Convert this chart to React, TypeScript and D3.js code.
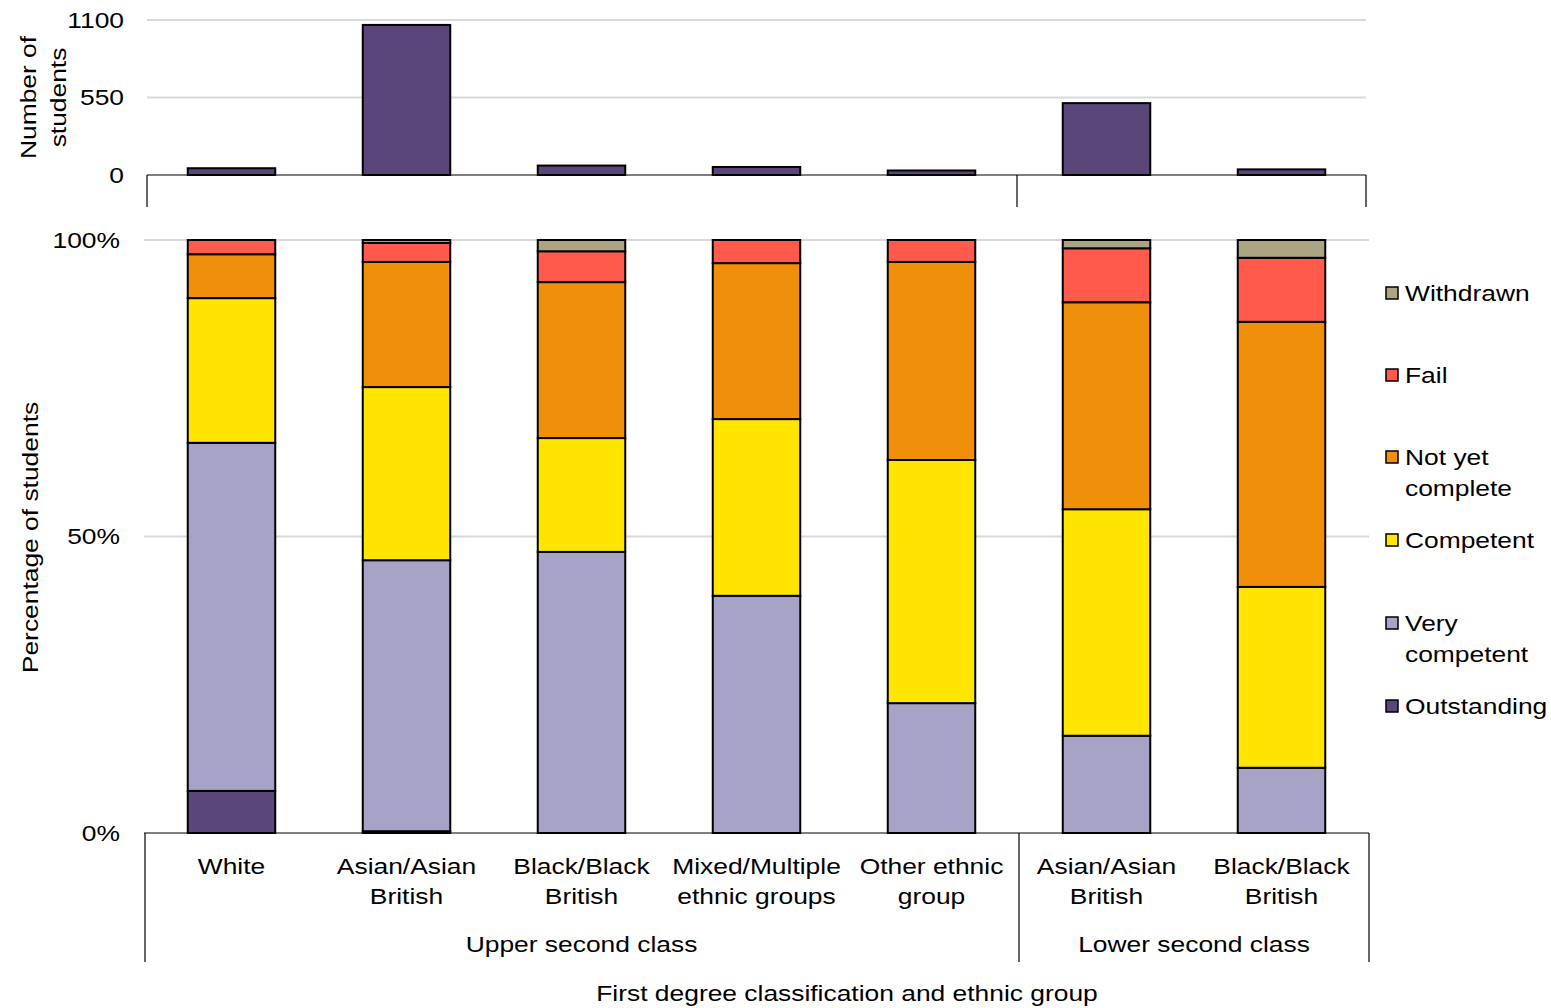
import React from "react";
import * as d3 from "d3";

const categories = [
  ["White"],
  ["Asian/Asian", "British"],
  ["Black/Black", "British"],
  ["Mixed/Multiple", "ethnic groups"],
  ["Other ethnic", "group"],
  ["Asian/Asian", "British"],
  ["Black/Black", "British"],
];
const groups = [
  { name: "Upper second class", start: 0, end: 5 },
  { name: "Lower second class", start: 5, end: 7 },
];
const counts = [48, 1065, 67, 57, 32, 510, 40];

const seriesNames = ["Outstanding", "Very competent", "Competent", "Not yet complete", "Fail", "Withdrawn"];
const seriesColors = ["#5B467A", "#A7A3C7", "#FFE500", "#F0900A", "#FF5A4B", "#ABA584"];
const outstanding = [7.1, 0.3, 0, 0, 0, 0, 0];
const veryCompetent = [58.7, 45.7, 47.4, 40.0, 21.9, 16.4, 11.0];
const competent = [24.4, 29.2, 19.2, 29.8, 41.0, 38.2, 30.5];
const notYetComplete = [7.4, 21.1, 26.3, 26.3, 33.4, 34.9, 44.7];
const fail = [2.4, 3.2, 5.2, 3.9, 3.7, 9.1, 10.8];
const withdrawn = [0, 0.5, 1.9, 0, 0, 1.4, 3.0];
const seriesValues = [outstanding, veryCompetent, competent, notYetComplete, fail, withdrawn];

const countTicks = [0, 550, 1100];
const pctTicks = [0, 50, 100];

const legendLabels = [
  { name: "Withdrawn", lines: ["Withdrawn"], y: 293 },
  { name: "Fail", lines: ["Fail"], y: 375 },
  { name: "Not yet complete", lines: ["Not yet", "complete"], y: 457 },
  { name: "Competent", lines: ["Competent"], y: 540 },
  { name: "Very competent", lines: ["Very", "competent"], y: 623 },
  { name: "Outstanding", lines: ["Outstanding"], y: 706 },
];

const FS = 22;
const SX = 1.2;

function T({ x, y, r = 0, anchor = "start", children }: any) {
  return (
    <g transform={`translate(${x},${y}) rotate(${r}) scale(${SX},1)`}>
      <text x={0} y={0} textAnchor={anchor} dominantBaseline="central" fontSize={FS} fill="#000">
        {children}
      </text>
    </g>
  );
}

export default function App() {
  const W = 1551, H = 1008;
  const font = "'Liberation Sans', Arial, sans-serif";
  const left = 144, right = 1369;
  const x = d3.scaleBand<number>().domain(categories.map((_, i) => i)).range([left, right]).paddingInner(0.5).paddingOuter(0.25);
  const yTop = d3.scaleLinear().domain([0, 1100]).range([175, 20]);
  const yBot = d3.scaleLinear().domain([0, 100]).range([833, 240]);
  const step = x.step();
  const groupEdge = (i: number) => left + i * step;

  const stackData = categories.map((_, i) => {
    const o: any = { idx: i };
    seriesNames.forEach((s, k) => (o[s] = seriesValues[k][i]));
    return o;
  });
  const stacked = d3.stack<any>().keys(seriesNames)(stackData);

  return (
    <svg width={W} height={H} style={{ position: "absolute", left: 0, top: 0, background: "#fff" }} fontFamily={font}>
      {/* top chart */}
      {countTicks.filter((t) => t > 0).map((t) => (
        <line key={"tg" + t} x1={147} x2={1366} y1={yTop(t)} y2={yTop(t)} stroke="#d9d9d9" strokeWidth={2} />
      ))}
      {countTicks.map((t) => (
        <T key={"tt" + t} x={124} y={yTop(t)} anchor="end">{t}</T>
      ))}
      <T x={28} y={yTop(550)} r={-90} anchor="middle">Number of</T>
      <T x={58} y={yTop(550)} r={-90} anchor="middle">students</T>
      {counts.map((c, i) => (
        <rect key={"c" + i} x={x(i)} y={yTop(c)} width={x.bandwidth()} height={yTop(0) - yTop(c)} fill="#5B467A" stroke="#000" strokeWidth={2} />
      ))}
      <line x1={147} x2={1366} y1={yTop(0)} y2={yTop(0)} stroke="#000" strokeWidth={1.2} />
      {[147, groupEdge(5) - 2, 1366].map((gx, i) => (
        <line key={"tv" + i} x1={gx} x2={gx} y1={yTop(0)} y2={207} stroke="#000" strokeWidth={1.2} />
      ))}

      {/* bottom chart */}
      {pctTicks.filter((t) => t > 0).map((t) => (
        <line key={"bg" + t} x1={left} x2={right} y1={yBot(t)} y2={yBot(t)} stroke="#d9d9d9" strokeWidth={2} />
      ))}
      {pctTicks.map((t) => (
        <T key={"bt" + t} x={120} y={yBot(t)} anchor="end">{t + "%"}</T>
      ))}
      <T x={30} y={yBot(50) + 1} r={-90} anchor="middle">Percentage of students</T>
      {stacked.map((layer, k) =>
        layer.map((d, i) =>
          d[1] - d[0] > 0 ? (
            <rect key={k + "-" + i} x={x(i)} y={yBot(d[1])} width={x.bandwidth()} height={yBot(d[0]) - yBot(d[1])} fill={seriesColors[k]} stroke="#000" strokeWidth={2} />
          ) : null
        )
      )}
      <line x1={left} x2={right} y1={yBot(0)} y2={yBot(0)} stroke="#000" strokeWidth={1.2} />
      {[left + 1, groupEdge(5), right].map((gx, i) => (
        <line key={"bv" + i} x1={gx} x2={gx} y1={yBot(0)} y2={962} stroke="#000" strokeWidth={1.2} />
      ))}
      {categories.map((lines, i) => (
        <g key={"cl" + i}>
          {lines.map((ln, j) => (
            <T key={j} x={(x(i) as number) + x.bandwidth() / 2} y={866 + j * 30} anchor="middle">{ln}</T>
          ))}
        </g>
      ))}
      {groups.map((g) => (
        <T key={g.name} x={(groupEdge(g.start) + groupEdge(g.end)) / 2} y={944} anchor="middle">{g.name}</T>
      ))}
      <T x={847} y={993} anchor="middle">First degree classification and ethnic group</T>

      {/* legend */}
      {legendLabels.map((l) => {
        const k = seriesNames.indexOf(l.name);
        return (
          <g key={l.name}>
            <rect x={1386} y={l.y - 6} width={12} height={12} fill={seriesColors[k]} stroke="#000" strokeWidth={1.5} />
            {l.lines.map((ln, j) => (
              <T key={j} x={1405} y={l.y + j * 31}>{ln}</T>
            ))}
          </g>
        );
      })}
    </svg>
  );
}
